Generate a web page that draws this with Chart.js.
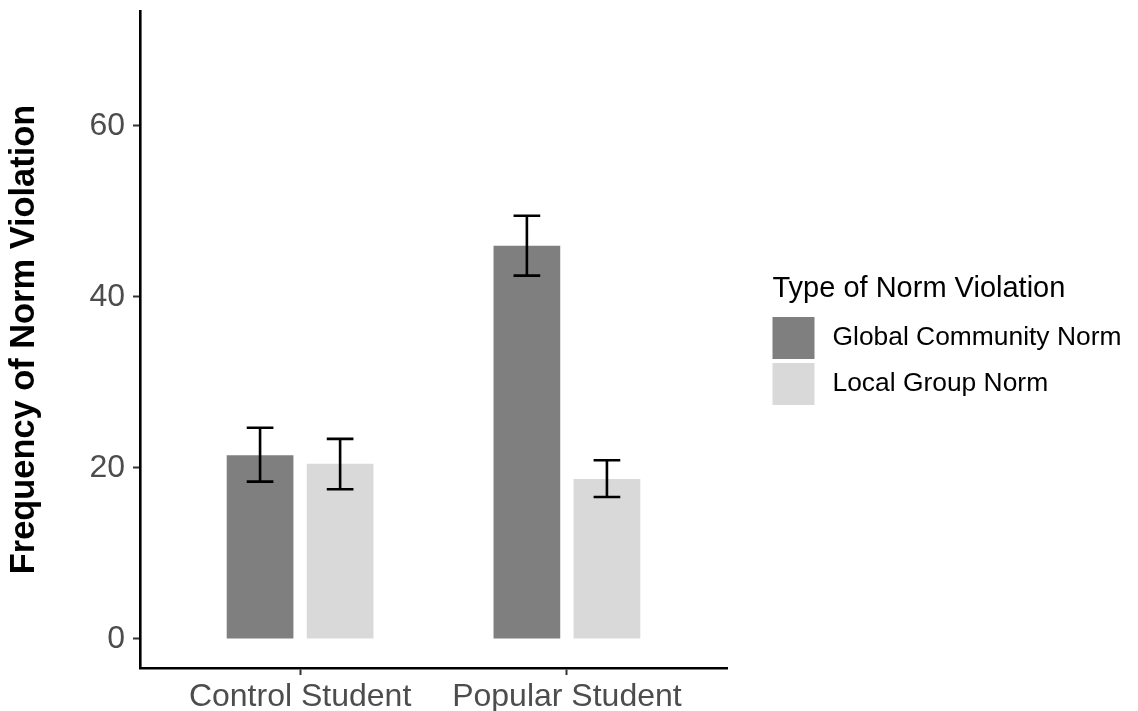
<!DOCTYPE html>
<html>
<head>
<meta charset="utf-8">
<script src="https://cdn.jsdelivr.net/npm/chart.js@4"></script>
<style>
  html, body { margin: 0; padding: 0; background: #fff; }
  #wrap { width: 1138px; height: 711px; }
</style>
</head>
<body>
<div id="wrap"><canvas id="chart" width="1138" height="711"></canvas></div>
<script>
// data
const groups = ["Control Student", "Popular Student"];
const groupPositions = [1, 2];
const seriesNames = ["Global Community Norm", "Local Group Norm"];
const globalMeans = [21.5, 46.0];
const localMeans = [20.5, 18.7];
const globalLower = [18.4, 42.5];
const globalUpper = [24.7, 49.5];
const localLower = [17.5, 16.6];
const localUpper = [23.4, 20.9];
const yTicks = [0, 20, 40, 60];

const FONT = "'Liberation Sans', Arial, Helvetica, sans-serif";
const colors = ["#7f7f7f", "#d9d9d9"];
const legendTitle = "Type of Norm Violation";

function toPoints(values) {
    return values.map((v, i) => ({ x: groupPositions[i], y: v }));
}

// error bars drawn on top of each bar, using the chart's own scales
const errorBars = {
    id: "errorBars",
    afterDatasetsDraw(chart) {
        const ctx = chart.ctx;
        const yScale = chart.scales.y;
        const bounds = [[globalLower, globalUpper], [localLower, localUpper]];
        ctx.save();
        ctx.strokeStyle = "#000";
        ctx.lineWidth = 2.6;
        chart.data.datasets.forEach((ds, i) => {
            const meta = chart.getDatasetMeta(i);
            meta.data.forEach((bar, j) => {
                const x = bar.x;
                const yLo = yScale.getPixelForValue(bounds[i][0][j]);
                const yHi = yScale.getPixelForValue(bounds[i][1][j]);
                const half = bar.width * 0.2;
                ctx.beginPath();
                ctx.moveTo(x, yLo); ctx.lineTo(x, yHi);
                ctx.moveTo(x - half, yLo); ctx.lineTo(x + half, yLo);
                ctx.moveTo(x - half, yHi); ctx.lineTo(x + half, yHi);
                ctx.stroke();
            });
        });
        ctx.restore();
    }
};

// ggplot-like legend to the right of the panel
const sideLegend = {
    id: "sideLegend",
    afterDraw(chart) {
        const ctx = chart.ctx;
        const left = chart.chartArea.right + 45.5;
        ctx.save();
        ctx.fillStyle = "#000";
        ctx.textAlign = "left";
        ctx.textBaseline = "alphabetic";
        ctx.font = "29px " + FONT;
        ctx.fillText(legendTitle, left, 297);
        ctx.font = "26.4px " + FONT;
        ctx.textBaseline = "middle";
        chart.data.datasets.forEach((ds, i) => {
            const top = 317 + i * 46;
            ctx.fillStyle = ds.backgroundColor;
            ctx.fillRect(left, top, 42, 42);
            ctx.fillStyle = "#000";
            ctx.fillText(ds.label, left + 60, top + 21);
        });
        ctx.restore();
    }
};

const ctx = document.getElementById("chart").getContext("2d");
new Chart(ctx, {
    type: "bar",
    data: {
        datasets: [
            {
                label: seriesNames[0],
                data: toPoints(globalMeans),
                backgroundColor: colors[0],
            },
            {
                label: seriesNames[1],
                data: toPoints(localMeans),
                backgroundColor: colors[1],
            },
        ],
    },
    options: {
        responsive: false,
        animation: false,
        devicePixelRatio: 1,
        categoryPercentage: 0.6,
        barPercentage: 0.8333,
        layout: {
            padding: { top: 11, right: 411, bottom: 0, left: 0 },
        },
        plugins: {
            legend: { display: false },
            tooltip: { enabled: false },
        },
        scales: {
            x: {
                type: "linear",
                offset: false,
                min: 0.4,
                max: 2.6,
                afterBuildTicks: (scale) => {
                    scale.ticks = groupPositions.map(v => ({ value: v }));
                },
                afterFit: (scale) => {
                    scale.height = 43;
                    scale.paddingLeft = 0;
                    scale.paddingRight = 0;
                },
                ticks: {
                    callback: (value) => groups[groupPositions.indexOf(value)] || "",
                    color: "#4d4d4d",
                    font: { family: FONT, size: 32 },
                    padding: 3,
                    maxRotation: 0,
                    autoSkip: false,
                },
                grid: {
                    offset: false,
                    drawOnChartArea: false,
                    tickLength: 7,
                    tickWidth: 2,
                    color: "#333",
                },
                border: { color: "#000", width: 2.6 },
            },
            y: {
                min: -3.4,
                max: 73.45,
                afterBuildTicks: (scale) => {
                    scale.ticks = yTicks.map(v => ({ value: v }));
                },
                afterFit: (scale) => {
                    scale.width = 140;
                    scale.paddingTop = 0;
                    scale.paddingBottom = 0;
                },
                ticks: {
                    color: "#4d4d4d",
                    font: { family: FONT, size: 32 },
                    padding: 8,
                },
                grid: {
                    drawOnChartArea: false,
                    tickLength: 7,
                    tickWidth: 2,
                    color: "#333",
                },
                border: { color: "#000", width: 2.6 },
                title: {
                    display: true,
                    text: "Frequency of Norm Violation",
                    color: "#000",
                    font: { family: FONT, size: 34.4, weight: "bold" },
                    padding: { top: 4, bottom: 0 },
                },
            },
        },
    },
    plugins: [errorBars, sideLegend],
});
</script>
</body>
</html>
